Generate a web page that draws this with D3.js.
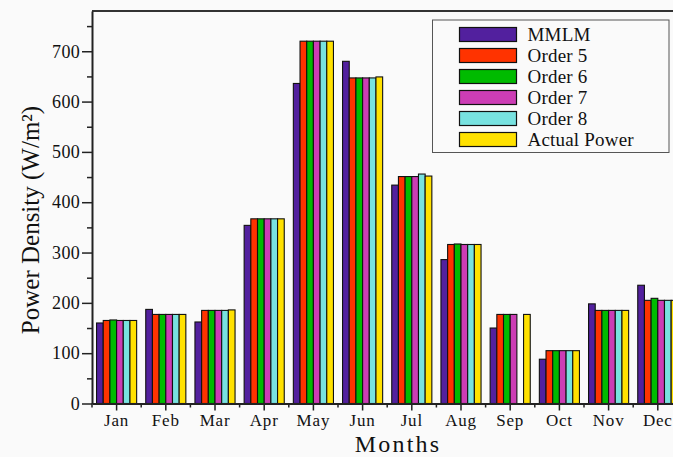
<!DOCTYPE html>
<html>
<head>
<meta charset="utf-8">
<script src="https://cdn.jsdelivr.net/npm/d3@7"></script>
<style>
  html, body { margin: 0; padding: 0; background: #fafafa; }
  svg { display: block; overflow: hidden; }
  text { font-family: "Liberation Serif", "Times New Roman", serif; fill: #111; }
</style>
</head>
<body>
<svg id="chart" width="673" height="457"></svg>
<script>
// Monthly power density per model
const months = ["Jan", "Feb", "Mar", "Apr", "May", "Jun", "Jul", "Aug", "Sep", "Oct", "Nov", "Dec"];
const seriesNames = ["MMLM", "Order 5", "Order 6", "Order 7", "Order 8", "Actual Power"];
const seriesColors = ["#52209e", "#ff3300", "#00bb00", "#cc3db5", "#78e2e0", "#ffe100"];

const mmlm   = [160, 187, 162, 354, 636, 680, 434, 286, 150,  88, 198, 235];
const order5 = [165, 177, 185, 367, 720, 647, 451, 316, 177, 105, 185, 205];
const order6 = [166, 177, 185, 367, 720, 647, 451, 317, 177, 105, 185, 209];
const order7 = [165, 177, 185, 367, 720, 647, 451, 316, 177, 105, 185, 205];
const order8 = [165, 177, 185, 367, 720, 647, 456, 316, null, 105, 185, 205];
const actual = [165, 177, 186, 367, 720, 649, 452, 316, 177, 105, 185, 205];

const yMajorTicks = [0, 100, 200, 300, 400, 500, 600, 700];
const yMinorTicks = [50, 150, 250, 350, 450, 550, 650, 750];

const seriesValues = [mmlm, order5, order6, order7, order8, actual];

const svg = d3.select("#chart");
const W = 673, H = 457;
const plot = { left: 92, right: 682.4, top: 11, bottom: 403.5 };

const x = d3.scaleBand()
  .domain(months)
  .range([plot.left, plot.right])
  .paddingInner(0.185)
  .paddingOuter(0.0925);

const xSub = d3.scaleBand()
  .domain(seriesNames)
  .range([0, x.bandwidth()]);

const y = d3.scaleLinear()
  .domain([0, 780])
  .range([plot.bottom, plot.top]);

const color = d3.scaleOrdinal().domain(seriesNames).range(seriesColors);

// Bars
const groups = svg.append("g")
  .selectAll("g")
  .data(months)
  .join("g")
  .attr("transform", d => `translate(${x(d)},0)`);

groups.selectAll("rect")
  .data((m, i) => seriesNames.map((s, j) => ({ s, v: seriesValues[j][i] })).filter(d => d.v != null))
  .join("rect")
  .attr("x", d => xSub(d.s))
  .attr("y", d => y(d.v))
  .attr("width", xSub.bandwidth())
  .attr("height", d => y(0) - y(d.v))
  .attr("fill", d => color(d.s))
  .attr("stroke", "#111")
  .attr("stroke-width", 1.1);

// Frame top line
svg.append("line")
  .attr("x1", plot.left).attr("x2", W)
  .attr("y1", plot.top).attr("y2", plot.top)
  .attr("stroke", "#333").attr("stroke-width", 2);

// Y axis
const yAxis = svg.append("g")
  .attr("transform", `translate(${plot.left},0)`)
  .call(d3.axisLeft(y).tickValues(yMajorTicks).tickSize(10).tickPadding(2).tickSizeOuter(0));
yAxis.select(".domain").attr("stroke", "#222").attr("stroke-width", 2);
yAxis.selectAll(".tick line").attr("stroke", "#222").attr("stroke-width", 1.5);
yAxis.selectAll(".tick text")
  .style("font-family", '"Liberation Serif", serif')
  .style("font-size", "18px")
  .style("letter-spacing", "0.3px")
  .attr("fill", "#111");

svg.append("g")
  .attr("transform", `translate(${plot.left},0)`)
  .call(d3.axisLeft(y).tickValues(yMinorTicks).tickSize(5).tickFormat(""))
  .call(g => g.select(".domain").remove())
  .selectAll(".tick line").attr("stroke", "#222").attr("stroke-width", 1.5);

// X axis
const xAxis = svg.append("g")
  .attr("transform", `translate(0,${plot.bottom})`)
  .call(d3.axisBottom(x).tickSize(7).tickPadding(3).tickSizeOuter(0));
xAxis.select(".domain").attr("stroke", "#222").attr("stroke-width", 2);
xAxis.selectAll(".tick line").attr("stroke", "#222").attr("stroke-width", 1.5);
xAxis.selectAll(".tick text")
  .style("font-family", '"Liberation Serif", serif')
  .style("font-size", "17px")
  .style("letter-spacing", "0.8px")
  .attr("fill", "#111");

// Minor ticks at category boundaries
const edges = months.map(m => x(m) - (x.step() - x.bandwidth()) / 2);
svg.append("g")
  .selectAll("line")
  .data(edges)
  .join("line")
  .attr("x1", d => d).attr("x2", d => d)
  .attr("y1", plot.bottom).attr("y2", plot.bottom + 4)
  .attr("stroke", "#222").attr("stroke-width", 1.5);

// Axis titles
svg.append("text")
  .attr("x", 398)
  .attr("y", 451.5)
  .attr("text-anchor", "middle")
  .style("font-size", "24px")
  .style("letter-spacing", "2.2px")
  .text("Months");

svg.append("text")
  .attr("transform", `translate(39,${220}) rotate(-90)`)
  .attr("text-anchor", "middle")
  .style("font-size", "25px")
  .text("Power Density (W/m²)");

// Legend
const legend = svg.append("g").attr("transform", "translate(432.5,20)");
legend.append("rect")
  .attr("width", 236.5).attr("height", 132.5)
  .attr("fill", "#fafafa").attr("stroke", "#555").attr("stroke-width", 1);

const item = legend.selectAll("g.item")
  .data(seriesNames)
  .join("g")
  .attr("class", "item")
  .attr("transform", (d, i) => `translate(27,${7.5 + i * 21})`);

item.append("rect")
  .attr("width", 57).attr("height", 14)
  .attr("fill", d => color(d))
  .attr("stroke", "#111").attr("stroke-width", 1.2);

item.append("text")
  .attr("x", 68).attr("y", 13.5)
  .style("font-size", "19px")
  .style("letter-spacing", "0.2px")
  .text(d => d);
</script>
</body>
</html>
